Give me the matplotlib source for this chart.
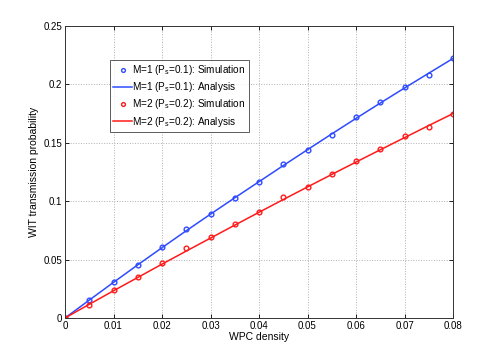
import matplotlib
matplotlib.use("Agg")
import matplotlib.pyplot as plt

plt.rcParams['font.family'] = ['Liberation Sans', 'DejaVu Sans']
plt.rcParams['mathtext.default'] = 'regular'

x = [0, 0.005, 0.01, 0.015, 0.02, 0.025, 0.03, 0.035, 0.04, 0.045, 0.05,
     0.055, 0.06, 0.065, 0.07, 0.075, 0.08]
sim_m1 = [0, 0.0154, 0.0310, 0.0453, 0.0610, 0.0760, 0.0890, 0.1030, 0.1167,
          0.1318, 0.1438, 0.1567, 0.1724, 0.1846, 0.1980, 0.2080, 0.2222]
ana_m1 = [0, 0.0153, 0.0305, 0.0455, 0.0602, 0.0747, 0.0889, 0.1029, 0.1167,
          0.1305, 0.1441, 0.1576, 0.1709, 0.1840, 0.1969, 0.2096, 0.2222]
sim_m2 = [0, 0.0111, 0.0240, 0.0354, 0.0474, 0.0596, 0.0696, 0.0805, 0.0905,
          0.1033, 0.1124, 0.1230, 0.1344, 0.1447, 0.1558, 0.1635, 0.1747]
ana_m2 = [0, 0.0117, 0.0233, 0.0347, 0.0461, 0.0573, 0.0684, 0.0795, 0.0905,
          0.1014, 0.1122, 0.1229, 0.1335, 0.1440, 0.1544, 0.1648, 0.1750]
labels = ['M=1 (P$_s$=0.1): Simulation', 'M=1 (P$_s$=0.1): Analysis',
          'M=2 (P$_s$=0.2): Simulation', 'M=2 (P$_s$=0.2): Analysis']
xticks = [0, 0.01, 0.02, 0.03, 0.04, 0.05, 0.06, 0.07, 0.08]
xticklabels = ['0', '0.01', '0.02', '0.03', '0.04', '0.05', '0.06', '0.07', '0.08']
yticks = [0, 0.05, 0.1, 0.15, 0.2, 0.25]
yticklabels = ['0', '0.05', '0.1', '0.15', '0.2', '0.25']

blue = '#2e4bff'
red = '#ff1a1a'

fig = plt.figure(figsize=(5.01, 3.58), dpi=100)
ax = fig.add_axes([65/501, 40/358, 388/501, 292/358])

ax.plot(x, sim_m1, 'o', mfc='none', mec=blue, ms=3.4, mew=1.0, label=labels[0])
ax.plot(x, ana_m1, '-', color=blue, lw=1.1, label=labels[1])
ax.plot(x, sim_m2, 'o', mfc='none', mec=red, ms=3.4, mew=1.0, label=labels[2])
ax.plot(x, ana_m2, '-', color=red, lw=1.1, label=labels[3])

ax.set_xlim(0, 0.08)
ax.set_ylim(0, 0.25)
ax.set_xticks(xticks)
ax.set_xticklabels(xticklabels)
ax.set_yticks(yticks)
ax.set_yticklabels(yticklabels)
ax.tick_params(direction='in', top=True, right=True, labelsize=7, length=3, width=0.6, pad=2)
ax.grid(True, linestyle=':', color='#b0b0b0', linewidth=0.7)
for s in ax.spines.values():
    s.set_linewidth(0.7)
    s.set_color('#333333')

ax.set_xlabel('WPC density', fontsize=7.5, labelpad=1)
ax.set_ylabel('WIT transmission probability', fontsize=7.5, labelpad=3)

leg = ax.legend(loc='upper left', bbox_to_anchor=(45/388, 258/292), fontsize=7.2,
                frameon=True, fancybox=False, edgecolor='#333333',
                borderpad=0.3, labelspacing=0.32, handlelength=1.9,
                handletextpad=0.05, borderaxespad=0, markerscale=0.8)
leg.get_frame().set_linewidth(0.7)

fig.savefig('out.png', dpi=100)
